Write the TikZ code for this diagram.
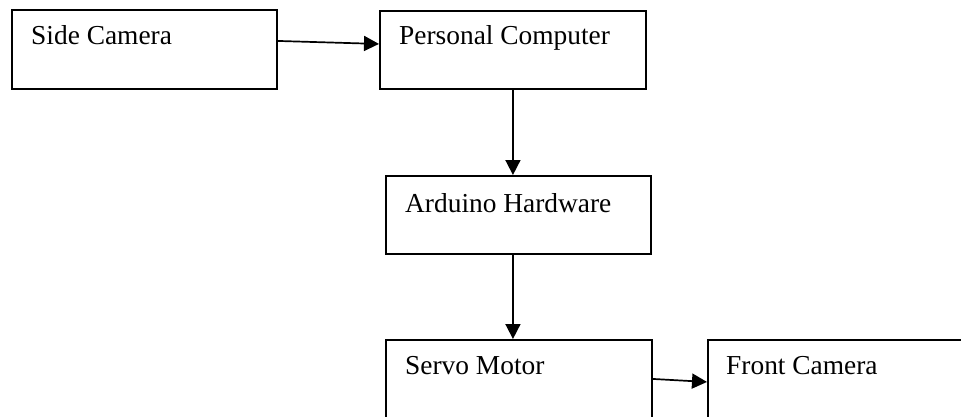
\documentclass[tikz,border=0pt]{standalone}
\usepackage{fontspec}
\setmainfont{Liberation Serif}
\usetikzlibrary{arrows.meta}
\begin{document}
\begin{tikzpicture}[x=1pt,y=-1pt,
  blockbox/.style={draw, line width=1.9pt, rectangle, inner sep=0pt, anchor=north west},
  blocktext/.style={anchor=base west, inner sep=0pt, font=\fontsize{27.4}{32}\selectfont},
  flow/.style={line width=1.7pt, -{Triangle[length=15pt,width=15pt]}}]
\useasboundingbox (0,0) rectangle (961,417);

% boxes
\node[blockbox, minimum width=265pt, minimum height=78.5pt] (sc) at (11,9.5) {};
\node[blockbox, minimum width=266pt, minimum height=78pt] (pc) at (379,10) {};
\node[blockbox, minimum width=265pt, minimum height=78pt] (ard) at (385,175) {};
\node[blockbox, minimum width=266pt, minimum height=80pt] (sv) at (385,339) {};
\node[blockbox, minimum width=270pt, minimum height=80pt] (fc) at (707,339) {};

% labels
\node[blocktext] (scT) at (31,45) {Side Camera};
\node[blocktext] (pcT) at (399,45) {Personal Computer};
\node[blocktext] (ardT) at (405,212) {Arduino Hardware};
\node[blocktext] (svT) at (405,374) {Servo Motor};
\node[blocktext] (fcT) at (726,374) {Front Camera};

% connectors
\draw[flow] ([yshift=8.75pt]sc.east) -- ([yshift=6pt]pc.west);
\draw[flow] (pc.south) -- (pc.south |- ard.north);
\draw[flow] (pc.south |- ard.south) -- (pc.south |- sv.north);
\draw[flow] ([yshift=1pt]sv.east) -- ([yshift=-2pt]fc.west);
\end{tikzpicture}
\end{document}
